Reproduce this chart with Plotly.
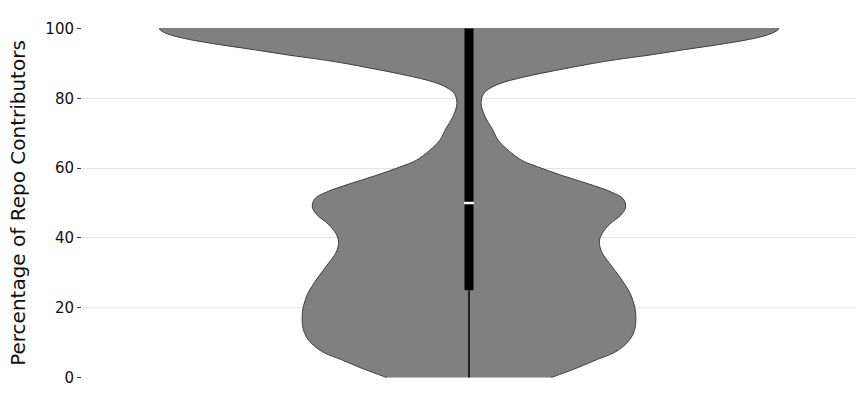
import plotly.graph_objects as go

# Density profile of the violin, relative to maximum
y_levels = [0, 2.7, 5.1, 7.0, 8.9, 10.8, 13.7, 16.8, 19.9, 24.0, 26.3, 28.8, 32.6, 35.9,
            38.8, 41.1, 44.0, 46.5, 48.8, 51.2, 53.1, 55.5, 57.9, 60.3, 62.2, 65.1,
            67.9, 71.4, 74.7, 78.5, 81.3, 83.2, 84.7, 86.6, 88.5, 90.0, 91.1, 92.4,
            93.9, 95.3, 96.9, 98.1, 99.0, 100]
density = [0.266, 0.348, 0.412, 0.466, 0.498, 0.519, 0.535, 0.539, 0.536, 0.521, 0.506,
           0.487, 0.455, 0.429, 0.421, 0.429, 0.455, 0.490, 0.506, 0.498, 0.461,
           0.385, 0.300, 0.224, 0.171, 0.127, 0.095, 0.074, 0.052, 0.039, 0.047,
           0.074, 0.116, 0.203, 0.310, 0.400, 0.477, 0.584, 0.692, 0.800, 0.906,
           0.961, 0.987, 1.000]

# Box statistics
q_min = 0
q1 = 25
median = 50
q3 = 100

y_ticks = [0, 20, 40, 60, 80, 100]
y_title = "Percentage of Repo Contributors"

violin_halfwidth = 0.4   # seaborn default width 0.8

left_x = [-d * violin_halfwidth for d in density]
right_x = [d * violin_halfwidth for d in density]
vx = left_x + right_x[::-1]
vy = y_levels + y_levels[::-1]

fig = go.Figure()
fig.add_trace(go.Scatter(
    x=vx, y=vy, mode="lines", fill="toself",
    fillcolor="#808080",
    line=dict(color="#3f3f3f", width=1, shape="spline", smoothing=1.0),
    hoverinfo="skip", showlegend=False,
))
# whisker
fig.add_trace(go.Scatter(
    x=[0, 0], y=[q_min, q1], mode="lines",
    line=dict(color="black", width=1.5), showlegend=False, hoverinfo="skip",
))
# IQR box
fig.add_trace(go.Scatter(
    x=[0, 0], y=[q1, q3], mode="lines",
    line=dict(color="black", width=9), showlegend=False, hoverinfo="skip",
))
# median
fig.add_trace(go.Scatter(
    x=[0], y=[median], mode="markers",
    marker=dict(symbol="line-ew", size=7, line=dict(color="white", width=2.5)),
    showlegend=False, hoverinfo="skip",
))

fig.update_layout(
    width=866, height=405,
    margin=dict(l=82, r=10, t=28, b=27),
    paper_bgcolor="white", plot_bgcolor="white",
    font=dict(family="DejaVu Sans", color="#111111"),
    xaxis=dict(range=[-0.5, 0.5], visible=False),
    yaxis=dict(
        range=[-0.15, 100.15], tickvals=y_ticks, showgrid=True,
        gridcolor="#e5e5e5", gridwidth=1, zeroline=False, showline=False,
        ticks="outside", ticklen=4, tickcolor="#333333", tickwidth=1,
        tickfont=dict(size=15, color="#111111"),
        title=dict(text=y_title, font=dict(size=20, color="#111111"), standoff=14),
    ),
)

fig.write_html("out.html")
